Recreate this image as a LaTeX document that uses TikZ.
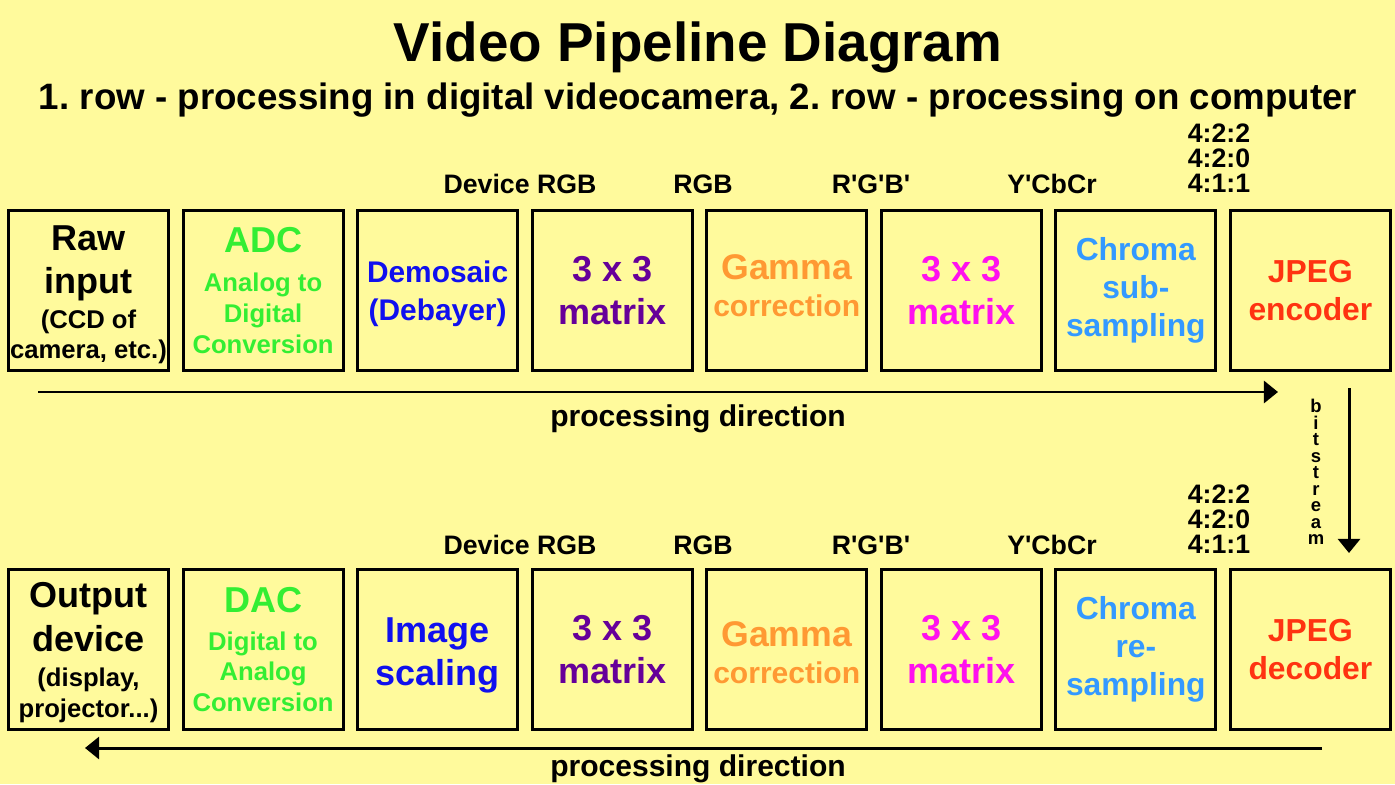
\documentclass[tikz,border=0pt]{standalone}
\usepackage{fontspec}
\setmainfont{Liberation Sans}
\usepackage{tikz}
\usetikzlibrary{arrows.meta,positioning}
\definecolor{paper}{HTML}{FFFA9C}
\definecolor{adcgreen}{HTML}{33EE33}
\definecolor{demoblue}{HTML}{1010EE}
\definecolor{matpurple}{HTML}{660099}
\definecolor{gamorange}{HTML}{FF9933}
\definecolor{matpink}{HTML}{FF11EE}
\definecolor{chromablue}{HTML}{3399FF}
\definecolor{jpegred}{HTML}{FF3311}
\newcommand{\fsz}[2]{\fontsize{#1}{#2}\selectfont}
\newcommand{\bigtx}{\fsz{20.5}{24.6}}
\newcommand{\midtx}{\fsz{17.1}{20.5}}
\newcommand{\smalltx}{\fsz{14.6}{17.5}}
\newcommand{\pr}{\textquotesingle}

\begin{document}
\begin{tikzpicture}[x=0.02cm,y=-0.02cm,>={Triangle[length=8pt,width=12.5pt]},
  node distance=0.232cm,
  stage/.style={draw=black,line width=1.7pt,minimum width=3.2cm,minimum height=3.2cm,
    inner sep=0pt,align=center,font=\bfseries\bigtx},
  mixed/.style={stage,font=\bfseries\smalltx},
  tag/.style={font=\bfseries\fsz{15.2}{14.2},align=center,inner sep=0pt},
  dirtext/.style={font=\bfseries\fsz{17.1}{20},inner sep=0pt,anchor=base}]
\fill[paper] (0,0) rectangle (1395,784);
\useasboundingbox (0,0) rectangle (1395,784);
% headings
\node[font=\bfseries\fsz{31.2}{37},inner sep=0pt,anchor=base] (title) at (698,62) {Video Pipeline Diagram};
\node[font=\bfseries\fsz{20.9}{25}\frenchspacing,inner sep=0pt,anchor=base] (subtitle) at (698,110)
  {1. row - processing in digital videocamera, 2. row - processing on computer};
% 1. row
\node[mixed] (raw) at (88.5,290.5) {\bigtx\rule{0pt}{19pt}Raw\\[7pt]\bigtx input\\[2.5pt](CCD of\\camera, etc.)};
\node[mixed,right=of raw,text=adcgreen] (adc) {\bigtx ADC\\[4.7pt]Analog to\\Digital\\Conversion};
\node[stage,right=of adc,text=demoblue,font=\bfseries\fsz{17}{21.6}] (demo) {\rule{0pt}{16pt}Demosaic\\(Debayer)};
\node[stage,right=of demo,text=matpurple] (matA) {3 x 3\\matrix};
\node[stage,right=of matA,text=gamorange,font=\bfseries\fsz{20.3}{21}] (gamA) {Gamma\\\midtx correction\rule[-6pt]{0pt}{6pt}};
\node[stage,right=of gamA,text=matpink] (matB) {3 x 3\\matrix};
\node[stage,right=of matB,text=chromablue,font=\bfseries\fsz{18.1}{21.7}] (chrA) {Chroma\\sub-\\sampling};
\node[stage,right=of chrA,text=jpegred,font=\bfseries\fsz{18.1}{21.7}] (enc) {JPEG\\encoder};
\node[tag] at (520,184) {Device RGB};
\node[tag] at (703,184) {RGB};
\node[tag] at (871,184) {R\pr G\pr B\pr};
\node[tag] at (1052,184) {Y\pr CbCr};
\node[tag] at (1219,158) {4:2:2\\4:2:0\\4:1:1};
\coordinate (dirA1) at (38,392);
\coordinate (dirA2) at (1278,392);
\draw[->,line width=1.7pt] (dirA1) -- (dirA2);
\node[dirtext] (dirlabA) at (698,426) {processing direction};
% bitstream
\coordinate (bsA) at (1349,388);
\coordinate (bsB) at (1349,553);
\draw[->,line width=1.7pt] (bsA) -- (bsB);
\node[font=\bfseries\fsz{10.5}{9.4},align=center,inner sep=0pt] (bits) at (1316,472) {b\\i\\t\\s\\t\\r\\e\\a\\m};
% 2. row
\node[mixed] (outd) at (88.5,649.5) {\bigtx\rule{0pt}{18pt}Output\\[5pt]\bigtx device\\[2.5pt](display,\\projector...)};
\node[mixed,right=of outd,text=adcgreen] (dac) {\bigtx DAC\\[4.1pt]Digital to\\Analog\\Conversion};
\node[stage,right=of dac,text=demoblue] (scal) {\rule{0pt}{21pt}Image\\scaling};
\node[stage,right=of scal,text=matpurple] (matC) {3 x 3\\matrix};
\node[stage,right=of matC,text=gamorange,font=\bfseries\fsz{20.3}{21}] (gamB) {\rule{0pt}{18pt}Gamma\\\midtx correction};
\node[stage,right=of gamB,text=matpink] (matD) {3 x 3\\matrix};
\node[stage,right=of matD,text=chromablue,font=\bfseries\fsz{18.1}{21.7}] (chrB) {Chroma\\re-\\sampling};
\node[stage,right=of chrB,text=jpegred,font=\bfseries\fsz{18.1}{21.7}] (dec) {JPEG\\decoder};
\node[tag] at (520,545) {Device RGB};
\node[tag] at (703,545) {RGB};
\node[tag] at (871,545) {R\pr G\pr B\pr};
\node[tag] at (1052,545) {Y\pr CbCr};
\node[tag] at (1219,519) {4:2:2\\4:2:0\\4:1:1};
\coordinate (dirB1) at (1322,748);
\coordinate (dirB2) at (85,748);
\draw[->,line width=1.7pt] (dirB1) -- (dirB2);
\node[dirtext] (dirlabB) at (698,776) {processing direction};
\end{tikzpicture}
\end{document}
